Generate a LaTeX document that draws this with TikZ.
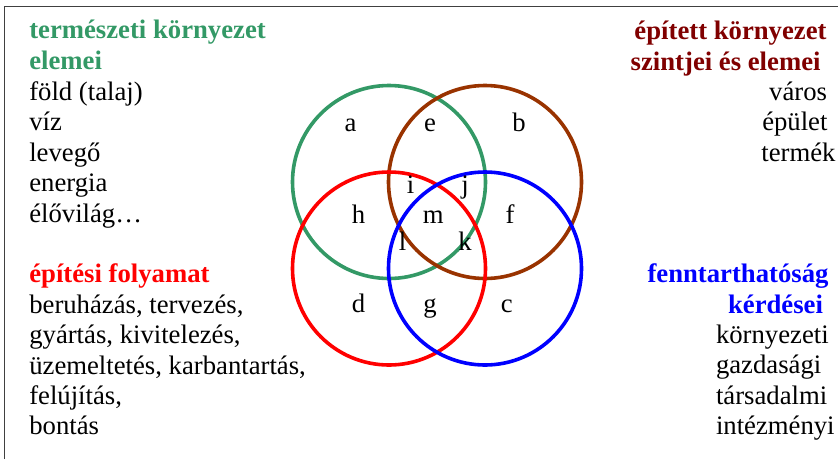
\documentclass[tikz,border=0pt]{standalone}
\usepackage{fontspec}
\setmainfont{Liberation Serif}
\definecolor{natgreen}{HTML}{339966}
\definecolor{ringbrown}{HTML}{993300}
\definecolor{headred}{HTML}{800000}
\definecolor{framegray}{HTML}{404040}
\begin{document}
\begin{tikzpicture}[x=1pt,y=-1pt,
  every node/.style={inner sep=0pt,outer sep=0pt,font=\fontsize{26.7}{30}\selectfont},
  lefttxt/.style={anchor=base west},
  righttxt/.style={anchor=base east},
  head/.style={font=\fontsize{26.7}{30}\selectfont\bfseries},
  ring/.style={circle,draw,line width=3.6pt,minimum size=193pt,inner sep=0pt},
  region/.style={anchor=base}]
\useasboundingbox (0,0) rectangle (838,459);
% frame (cropped)
\draw[framegray,line width=1.4pt] (4.3,459) -- (4.3,6.5) -- (838,6.5);
% circles
\node[ring,draw=natgreen] (cg) at (389,182) {};
\node[ring,draw=ringbrown] (cb) at (485,182) {};
\node[ring,draw=red] (cr) at (389,268.5) {};
\node[ring,draw=blue] (cu) at (485,268.5) {};
% region letters
\node[region] (ra) at (350.5,131.7) {a};
\node[region] (re) at (430,131.7) {e};
\node[region] (rb) at (519,131.7) {b};
\node[region] (ri) at (410.7,193) {i};
\node[region] (rj) at (465,193) {j};
\node[region] (rh) at (358.5,223) {h};
\node[region] (rm) at (433.3,223) {m};
\node[region] (rf) at (510,223) {f};
\node[region] (rl) at (402.7,250.7) {l};
\node[region] (rk) at (465,250.7) {k};
\node[region] (rd) at (358.5,312.7) {d};
\node[region] (rg) at (430,312.7) {g};
\node[region] (rc) at (506.7,312.7) {c};
% top-left block
\node[lefttxt,head,text=natgreen] (t1) at (29.3,38.5) {természeti környezet};
\node[lefttxt,head,text=natgreen] (t2) at (29.3,69.5) {elemei};
\node[lefttxt] (t3) at (29.3,100) {föld (talaj)};
\node[lefttxt] (t4) at (29.3,130.5) {víz};
\node[lefttxt] (t5) at (29.3,161) {levegő};
\node[lefttxt] (t6) at (29.3,191.5) {energia};
\node[lefttxt] (t7) at (29.3,222) {élővilág…};
% bottom-left block
\node[lefttxt,head,text=red] (b1) at (29.3,282) {építési folyamat};
\node[lefttxt] (b2) at (29.3,313) {beruházás, tervezés,};
\node[lefttxt] (b3) at (29.3,343.5) {gyártás, kivitelezés,};
\node[lefttxt] (b4) at (29.3,374) {üzemeltetés, karbantartás,};
\node[lefttxt] (b5) at (29.3,404.3) {felújítás,};
\node[lefttxt] (b6) at (29.3,434.5) {bontás};
% top-right block
\node[righttxt,head,text=headred] (s1) at (826.5,39) {épített környezet};
\node[righttxt,head,text=headred] (s2) at (820.5,70) {szintjei és elemei};
\node[righttxt] (s3) at (827,100) {város};
\node[righttxt] (s4) at (827.5,130.5) {épület};
\node[righttxt] (s5) at (835.5,161) {termék};
% bottom-right block
\node[righttxt,head,text=blue] (f1) at (828.5,282) {fenntarthatóság};
\node[righttxt,head,text=blue] (f2) at (823,313) {kérdései};
\node[lefttxt] (f3) at (716,343) {környezeti};
\node[lefttxt] (f4) at (716,373.5) {gazdasági};
\node[lefttxt] (f5) at (716,404) {társadalmi};
\node[lefttxt] (f6) at (716,434.5) {intézményi};
\end{tikzpicture}
\end{document}
